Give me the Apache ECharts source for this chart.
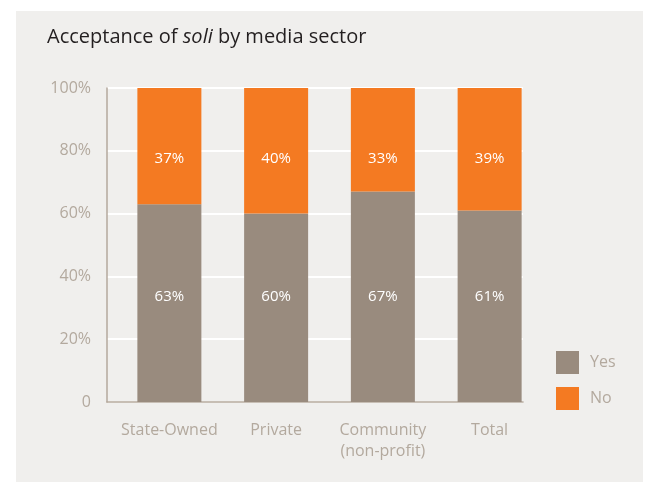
<!DOCTYPE html>
<html>
<head>
<meta charset="utf-8">
<script src="https://cdn.jsdelivr.net/npm/echarts@6/dist/echarts.min.js"></script>
<style>
  html, body { margin: 0; padding: 0; background: #ffffff; }
  #chart { width: 648px; height: 482px; }
</style>
</head>
<body>
<div id="chart"></div>
<script>
// Survey results: share of respondents accepting soli, per media sector
const sectors = ['State-Owned', 'Private', 'Community\n(non-profit)', 'Total'];
const yesValues = [63, 60, 67, 61];
const noValues = [37, 40, 33, 39];
const yTicks = [0, 20, 40, 60, 80, 100];

const FONT = '"Open Sans", "Noto Sans", sans-serif';
const GREY = '#998b7e';
const ORANGE = '#f47a22';
const MUTED = '#b3a99e';

const chart = echarts.init(document.getElementById('chart'));

chart.setOption({
  backgroundColor: '#ffffff',
  animation: false,
  graphic: [{
    type: 'rect',
    z: -10,
    shape: { x: 16, y: 11, width: 627, height: 471 },
    style: { fill: '#f0efed' }
  }],
  title: {
    text: '{n|Acceptance of }{i|soli}{n| by media sector}',
    left: 42,
    top: 22,
    textStyle: {
      rich: {
        n: { fontFamily: FONT, fontSize: 20, fontWeight: 'normal', color: '#231f20' },
        i: { fontFamily: FONT, fontSize: 20, fontWeight: 'normal', color: '#231f20', fontStyle: 'italic' }
      }
    }
  },
  legend: {
    orient: 'vertical',
    left: 551,
    top: 346,
    itemWidth: 23,
    itemHeight: 23,
    itemGap: 13,
    icon: 'rect',
    textStyle: { fontFamily: FONT, fontSize: 16, color: MUTED, padding: [0, 0, 0, 6] },
    data: ['Yes', 'No']
  },
  grid: [
    // frame: gridlines and axis lines
    { left: 107, top: 88, width: 416, height: 314 },
    // bars
    { left: 116, top: 88, width: 427, height: 314 }
  ],
  xAxis: [
    {
      gridIndex: 0, type: 'category', data: sectors,
      axisLine: { show: true, lineStyle: { color: '#b5a99c', width: 1.5 } },
      axisTick: { show: false }, axisLabel: { show: false }, splitLine: { show: false }
    },
    {
      gridIndex: 1, type: 'category', data: sectors,
      axisLine: { show: false }, axisTick: { show: false },
      axisLabel: { interval: 0, fontFamily: FONT, fontSize: 16, color: MUTED, margin: 18, lineHeight: 21 }
    }
  ],
  yAxis: [
    {
      gridIndex: 0, type: 'value', min: 0, max: 100, interval: 20,
      axisLine: { show: true, lineStyle: { color: '#b5a99c', width: 1.5 } },
      axisTick: { show: false },
      splitLine: { show: true, lineStyle: { color: '#ffffff', width: 2 } },
      axisLabel: {
        fontFamily: FONT, fontSize: 16, color: MUTED, margin: 16,
        formatter: v => (yTicks.includes(v) ? (v === 0 ? '0' : v + '%') : '')
      }
    },
    {
      gridIndex: 1, type: 'value', min: 0, max: 100, interval: 20,
      axisLine: { show: false }, axisTick: { show: false },
      axisLabel: { show: false }, splitLine: { show: false }
    }
  ],
  series: [
    {
      name: 'Yes', type: 'bar', stack: 'share', xAxisIndex: 1, yAxisIndex: 1,
      barWidth: 64, data: yesValues,
      itemStyle: { color: GREY },
      label: {
        show: true, position: 'insideBottom', distance: 98,
        formatter: '{c}%', fontFamily: FONT, fontSize: 15, color: '#ffffff'
      }
    },
    {
      name: 'No', type: 'bar', stack: 'share', xAxisIndex: 1, yAxisIndex: 1,
      barWidth: 64, data: noValues,
      itemStyle: { color: ORANGE },
      label: {
        show: true, position: 'insideTop', distance: 63,
        formatter: '{c}%', fontFamily: FONT, fontSize: 15, color: '#ffffff'
      }
    }
  ]
});
</script>
</body>
</html>
